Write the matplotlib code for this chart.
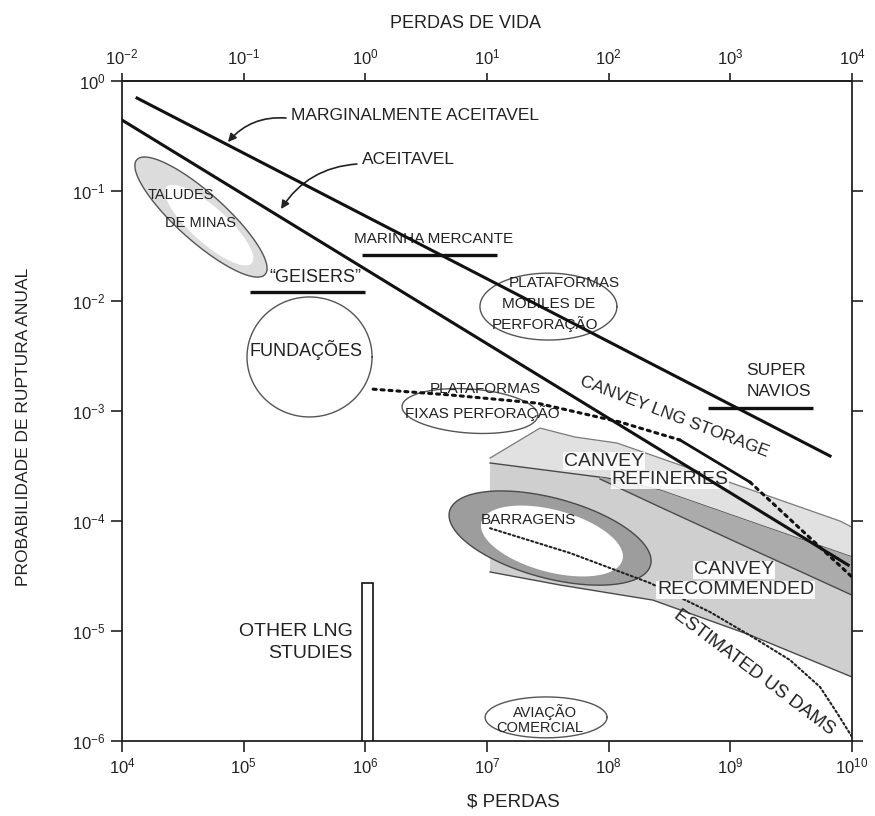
import numpy as np
import matplotlib
matplotlib.use("Agg")
import matplotlib.pyplot as plt
from matplotlib.ticker import NullLocator

plt.rcParams['font.family'] = ['Liberation Sans', 'DejaVu Sans']
plt.rcParams['mathtext.fontset'] = 'custom'
plt.rcParams['mathtext.rm'] = 'Liberation Sans'
plt.rcParams['mathtext.it'] = 'Liberation Sans:italic'
plt.rcParams['mathtext.bf'] = 'Liberation Sans:bold'

# ---------------------------------------------------------------- data
cost_ticks = [1e4, 1e5, 1e6, 1e7, 1e8, 1e9, 1e10]
lives_ticks = [1e-2, 1e-1, 1e0, 1e1, 1e2, 1e3, 1e4]
prob_ticks = [1e-6, 1e-5, 1e-4, 1e-3, 1e-2, 1e-1, 1e0]

# criteria lines
marginal_cost = [1.33e4, 6.6e9]
marginal_prob = [0.70, 3.9e-4]
acceptable_cost = [1.0e4, 9.3e9]
acceptable_prob = [0.442, 3.98e-5]

# horizontal ranges
merchant_cost = [9.4e5, 1.2e7]
merchant_prob = 0.0262
geysers_cost = [1.13e5, 1.0e6]
geysers_prob = 0.0121
supertanker_cost = [6.5e8, 4.8e9]
supertanker_prob = 1.06e-3

# Canvey LNG storage curve
lng_cost = [1.16e6, 4.97e6, 2.58e7, 1.24e8, 3.86e8, 1.45e9, 1.0e10]
lng_prob = [1.58e-3, 1.40e-3, 1.18e-3, 7.94e-4, 5.45e-4, 2.26e-4, 3.1e-5]

# estimated US dams curve
dams_cost = [1.06e7, 4.81e7, 2.19e8, 6.8e8, 1.53e9, 3.09e9, 5.46e9, 7.54e9, 1.0e10]
dams_prob = [8.6e-5, 5.12e-5, 2.73e-5, 1.49e-5, 8.8e-6, 5.45e-6, 3.1e-6, 1.8e-6, 1.09e-6]

# Canvey refineries (upper light band)
refinery_cost = [1.06e7, 2.73e7, 5.29e7, 1.17e8, 2.64e8, 1.75e9, 7.96e9, 1.0e10,
                 1.0e10, 1.75e9, 2.64e8, 9.68e7, 1.06e7]
refinery_prob = [3.74e-4, 7.0e-4, 5.8e-4, 5.12e-4, 3.74e-4, 1.8e-4, 1.0e-4, 8.8e-5,
                 4.71e-5, 9.2e-5, 1.91e-4, 2.46e-4, 3.37e-4]

# Canvey recommended (medium band)
recommended_cost = [1.06e7, 9.68e7, 2.64e8, 1.75e9, 1.0e10,
                    1.0e10, 1.45e9, 2.31e8, 3.98e7, 1.06e7]
recommended_prob = [3.37e-4, 2.46e-4, 1.91e-4, 9.2e-5, 4.71e-5,
                    3.82e-6, 9.2e-6, 1.91e-5, 2.62e-5, 3.44e-5]

# darker inner band
band_cost = [8.49e7, 2.64e8, 1.75e9, 1.0e10, 1.0e10, 1.75e9, 2.64e8, 8.49e7]
band_prob = [2.51e-4, 1.91e-4, 9.2e-5, 4.71e-5, 2.12e-5, 5.12e-5, 1.34e-4, 2.41e-4]

# other LNG studies bar
lng_study_cost = [9.4e5, 1.16e6]
lng_study_prob = 2.73e-5

# ellipses: centre (cost, probability), semi-axes (in x decades), tilt (deg)
mines_outer = ((4.46e4, 0.058), (0.707, 0.197), 41.8)
mines_inner = ((5.2e4, 0.049), (0.47, 0.145), 41.8)
foundations = ((3.48e5, 3.1e-3), (0.514, 0.493), 0.0)
mobile_rigs = ((3.2e7, 8.9e-3), (0.563, 0.275), 0.0)
fixed_rigs = ((7.24e6, 1.0e-3), (0.559, 0.181), 4.0)
aviation = ((3.06e7, 1.64e-6), (0.501, 0.168), 0.0)
dams_outer = ((3.3e7, 7.0e-5), (0.855, 0.329), 15.0)
dams_inner = ((3.42e7, 6.58e-5), (0.60, 0.255), 15.0)

# ---------------------------------------------------------------- figure
W, H = 8.75, 8.16
fig = plt.figure(figsize=(W, H), dpi=100)
pos = [0.1394, 0.0919, 0.8343, 0.8088]
ax = fig.add_axes(pos)
ax.set_xscale('log')
ax.set_yscale('log')
ax.set_xlim(1e4, 1e10)
ax.set_ylim(1e-6, 1e0)

# length of an x decade relative to a y decade on screen
XY_RATIO = (W * pos[2] / 6.0) / (H * pos[3] / 6.0)


def ellipse_xy(spec, n=240):
    (cx, cy), (a, b), ang = spec
    lx0, ly0 = np.log10(cx), np.log10(cy)
    t = np.linspace(0, 2 * np.pi, n)
    th = np.deg2rad(ang)
    u = a * np.cos(t) * np.cos(th) - b * np.sin(t) * np.sin(th)
    v = a * np.cos(t) * np.sin(th) + b * np.sin(t) * np.cos(th)
    return 10 ** (lx0 + u), 10 ** (ly0 - v * XY_RATIO)


TXT = '#222222'
EDGE = '#4a4a4a'

# shaded Canvey bands
ax.fill(refinery_cost, refinery_prob, color='#e1e1e1', lw=0, zorder=1)
ax.plot(refinery_cost[:8], refinery_prob[:8], color='#7a7a7a', lw=0.9, zorder=1.1)
ax.fill(recommended_cost, recommended_prob, color='#cfcfcf', lw=0, zorder=1.2)
ax.plot(recommended_cost[:5], recommended_prob[:5], color=EDGE, lw=1.0, zorder=1.3)
ax.plot(recommended_cost[5:], recommended_prob[5:], color=EDGE, lw=1.0, zorder=1.3)
ax.fill(band_cost, band_prob, color='#ababab', lw=0, zorder=1.4)
ax.plot(band_cost[4:], band_prob[4:], color=EDGE, lw=1.0, zorder=1.5)

# dams ring
x, y = ellipse_xy(dams_outer)
ax.fill(x, y, facecolor='#9d9d9d', edgecolor=EDGE, lw=1.0, zorder=2)
x, y = ellipse_xy(dams_inner)
ax.fill(x, y, facecolor='white', edgecolor='none', zorder=2.1)

# mine slopes
x, y = ellipse_xy(mines_outer)
ax.fill(x, y, facecolor='#dcdcdc', edgecolor='#555555', lw=1.0, zorder=2)
x, y = ellipse_xy(mines_inner)
ax.fill(x, y, facecolor='white', edgecolor='none', zorder=2.1)

# outlined groups
for spec in (foundations, mobile_rigs, fixed_rigs, aviation):
    x, y = ellipse_xy(spec)
    ax.plot(x, y, color='#555555', lw=1.0, zorder=2.2)

# other LNG studies bar
ax.bar(lng_study_cost[0], lng_study_prob - 1e-6, width=lng_study_cost[1] - lng_study_cost[0],
       bottom=1e-6, align='edge', facecolor='white', edgecolor='#111111', lw=1.2, zorder=3)

# horizontal ranges
for c, p in ((merchant_cost, merchant_prob), (geysers_cost, geysers_prob),
             (supertanker_cost, supertanker_prob)):
    ax.plot(c, [p, p], color='#111111', lw=2.4, solid_capstyle='butt', zorder=4)

# Canvey LNG storage: dotted / solid / dotted
ax.plot(lng_cost[:5], lng_prob[:5], color='#111111', lw=2.2, ls=(0, (1, 1.6)),
        dash_capstyle='round', zorder=7)
ax.plot(lng_cost[4:6], lng_prob[4:6], color='#111111', lw=2.0, zorder=7)
ax.plot(lng_cost[5:], lng_prob[5:], color='#111111', lw=2.2, ls=(0, (1, 1.6)),
        dash_capstyle='round', zorder=7)

# estimated US dams
ax.plot(dams_cost, dams_prob, color='#222222', lw=1.5, ls=(0, (1, 1.3)),
        dash_capstyle='round', zorder=4)

# criteria lines
ax.plot(marginal_cost, marginal_prob, color='#111111', lw=2.2, zorder=7)
ax.plot(acceptable_cost, acceptable_prob, color='#111111', lw=2.2, zorder=7)

# ---------------------------------------------------------------- labels
arrow = dict(arrowstyle='-|>', color='#222222', lw=1.2, mutation_scale=12,
             connectionstyle='arc3,rad=0.25', shrinkA=0, shrinkB=0)
ax.annotate('', xy=(7.43e4, 0.279), xytext=(2.23e5, 0.461), arrowprops=arrow, zorder=6)
ax.annotate('', xy=(2.03e5, 0.0686), xytext=(8.53e5, 0.176), arrowprops=arrow, zorder=6)

ax.text(2.45e5, 0.491, 'MARGINALMENTE ACEITAVEL', fontsize=12.5, color=TXT,
        ha='left', va='center')
ax.text(9.39e5, 0.195, 'ACEITAVEL', fontsize=12.5, color=TXT, ha='left', va='center')

ax.text(3.05e4, 0.092, 'TALUDES', fontsize=10.5, color=TXT, ha='center', va='center', zorder=6)
ax.text(4.46e4, 0.0512, 'DE MINAS', fontsize=10.5, color=TXT, ha='center', va='center', zorder=6)
ax.text(3.86e5, 0.0162, '\u201cGEISERS\u201d', fontsize=13, color=TXT, ha='center', va='center')
ax.text(3.25e5, 3.59e-3, 'FUNDAÇÕES', fontsize=13, color=TXT, ha='center', va='center')
ax.text(3.66e6, 0.0366, 'MARINHA MERCANTE', fontsize=11, color=TXT, ha='center', va='center')

ax.text(4.3e7, 0.0146, 'PLATAFORMAS', fontsize=11, color=TXT, ha='center', va='center')
ax.text(3.23e7, 9.39e-3, 'MOBILES DE', fontsize=11, color=TXT, ha='center', va='center')
ax.text(3.0e7, 6.18e-3, 'PERFORAÇÃO', fontsize=11, color=TXT, ha='center', va='center')

ax.text(9.64e6, 1.58e-3, 'PLATAFORMAS', fontsize=11, color=TXT, ha='center', va='center')
ax.text(9.1e6, 9.59e-4, 'FIXAS PERFORAÇÃO', fontsize=11, color=TXT, ha='center', va='center')

ax.text(1.35e9, 2.36e-3, 'SUPER', fontsize=12.5, color=TXT, ha='left', va='center')
ax.text(1.35e9, 1.52e-3, 'NAVIOS', fontsize=12.5, color=TXT, ha='left', va='center')

ax.text(3.44e8, 8.82e-4, 'CANVEY LNG STORAGE', fontsize=12.5, color=TXT, rotation=-21,
        rotation_mode='anchor', ha='center', va='center', zorder=6)

box = dict(facecolor='white', edgecolor='none', alpha=0.85, pad=0.5)
ax.text(9.16e7, 3.51e-4, 'CANVEY', fontsize=14, color='#2a2a2a', ha='center', va='center',
        bbox=box, zorder=6)
ax.text(3.19e8, 2.36e-4, 'REFINERIES', fontsize=14, color='#2a2a2a', ha='center', va='center',
        bbox=box, zorder=6)

ax.text(2.21e7, 1.02e-4, 'BARRAGENS', fontsize=11, color=TXT, ha='center', va='center', zorder=6)

box2 = dict(facecolor='white', edgecolor='none', alpha=0.95, pad=0.5)
ax.text(1.07e9, 3.59e-5, 'CANVEY', fontsize=14, color='#2a2a2a', ha='center', va='center',
        bbox=box2, zorder=6)
ax.text(1.11e9, 2.36e-5, 'RECOMMENDED', fontsize=14, color='#2a2a2a', ha='center', va='center',
        bbox=box2, zorder=6)

ax.text(1.56e9, 4.15e-6, 'ESTIMATED US DAMS', fontsize=13.5, color=TXT, rotation=-37,
        rotation_mode='anchor', ha='center', va='center', zorder=6)

ax.text(7.92e5, 1.0e-5, 'OTHER LNG', fontsize=14, color=TXT, ha='right', va='center')
ax.text(7.92e5, 6.31e-6, 'STUDIES', fontsize=14, color=TXT, ha='right', va='center')

ax.text(3.0e7, 1.84e-6, 'AVIAÇÃO', fontsize=10.5, color=TXT, ha='center', va='center')
ax.text(2.73e7, 1.31e-6, 'COMERCIAL', fontsize=10.5, color=TXT, ha='center', va='center')

# ---------------------------------------------------------------- axes
for s in ax.spines.values():
    s.set_linewidth(1.3)
    s.set_color('#222222')

ax.set_xticks(cost_ticks)
ax.set_yticks(prob_ticks)
ax.xaxis.set_minor_locator(NullLocator())
ax.yaxis.set_minor_locator(NullLocator())
ax.tick_params(axis='x', direction='out', length=8, width=1.2, pad=3,
               labelsize=12, colors='#222222', top=False)
ax.tick_params(axis='y', direction='out', length=8, width=1.2, pad=4,
               labelsize=12, colors='#222222', right=True, labelright=False)

sec = ax.secondary_xaxis('top', functions=(lambda c: c / 1e6, lambda v: v * 1e6))
sec.set_xticks(lives_ticks)
sec.xaxis.set_minor_locator(NullLocator())
sec.tick_params(axis='x', direction='out', length=6, width=1.2, pad=4,
                labelsize=12, colors='#222222')
sec.spines['top'].set_linewidth(1.3)

sec.set_xlabel('PERDAS DE VIDA', fontsize=13, color=TXT)
sec.xaxis.set_label_coords(0.471, 1.080, transform=ax.transAxes)
ax.set_xlabel(r'\$ PERDAS', fontsize=13.5, color=TXT)
ax.xaxis.set_label_coords(0.5356, -0.079)
ax.set_ylabel('PROBABILIDADE DE RUPTURA ANUAL', fontsize=12.5, color=TXT)
ax.yaxis.set_label_coords(-0.1247, 0.476)

fig.savefig('out.png', dpi=100, facecolor='white')
